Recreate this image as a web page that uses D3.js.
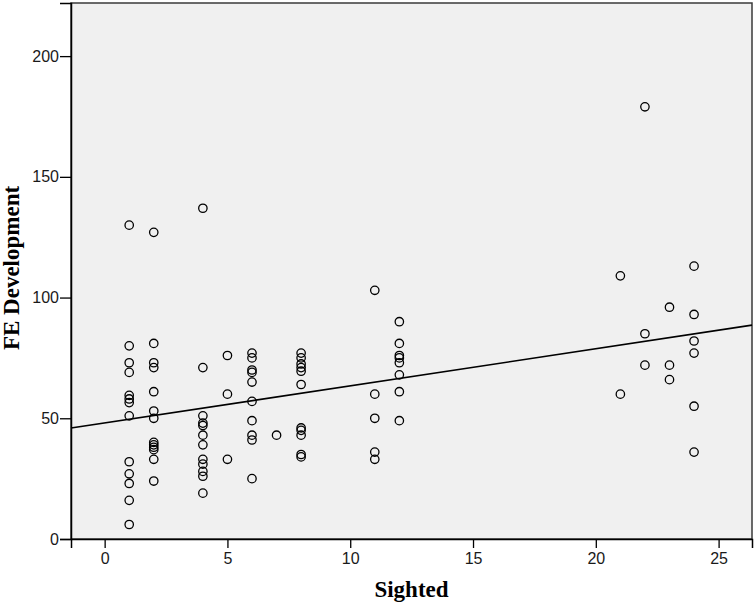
<!DOCTYPE html>
<html>
<head>
<meta charset="utf-8">
<script src="https://cdn.jsdelivr.net/npm/d3@7"></script>
<style>
  html, body { margin: 0; padding: 0; background: #ffffff; }
  svg { display: block; }
</style>
</head>
<body>
<svg id="chart" width="755" height="606"></svg>
<script>
// ---- Data ----
const sighted = [
  1,1,1,1,1,1,1,1,1,1,1,1,1,
  2,2,2,2,2,2,2,2,2,2,2,2,2,
  4,4,4,4,4,4,4,4,4,4,4,4,
  5,5,5,
  6,6,6,6,6,6,6,6,6,6,
  7,
  8,8,8,8,8,8,8,8,8,8,8,
  11,11,11,11,11,
  12,12,12,12,12,12,12,12,
  21,21,
  22,22,22,
  23,23,23,
  24,24,24,24,24,24
];
const feDevelopment = [
  130,80,73,69,59.5,58,56.5,51,32,27,23,16,6,
  127,81,73,71,61,53,50,40,39,38,37,33,24,
  137,71,51,48,47,43,39,33,31,28,26,19,
  76,60,33,
  77,75,70,69,65,57,49,43,41,25,
  43,
  77,75,72.5,71,69.5,64,46,45,43,35,34,
  103,60,50,36,33,
  90,81,76,75,73,68,61,49,
  109,60,
  179,85,72,
  96,72,66,
  113,93,82,77,55,36
];
const xTicks = [0, 5, 10, 15, 20, 25];
const yTicks = [0, 50, 100, 150, 200];
const xTitle = "Sighted";
const yTitle = "FE Development";

// ---- Layout ----
const svg = d3.select("#chart");
const plotLeft = 71, plotRight = 752, plotTop = 3, plotBottom = 539;

const x = d3.scaleLinear().domain([-1.37, 26.36]).range([plotLeft, plotRight]);
const y = d3.scaleLinear().domain([0, 222]).range([plotBottom, plotTop]);

// plot background + frame
svg.append("rect")
  .attr("x", plotLeft).attr("y", plotTop)
  .attr("width", plotRight - plotLeft).attr("height", plotBottom - plotTop)
  .attr("fill", "#f0f0f0")
  .attr("stroke", "#3a3a3a")
  .attr("stroke-width", 1.5);

// ---- Axes ----
const xAxis = d3.axisBottom(x).tickValues(xTicks).tickSize(9).tickPadding(5).tickFormat(d3.format("d"));
const yAxis = d3.axisLeft(y).tickValues(yTicks).tickSize(11).tickPadding(1).tickFormat(d3.format("d"));

const gx = svg.append("g").attr("transform", `translate(0,${plotBottom})`).call(xAxis);
const gy = svg.append("g").attr("transform", `translate(${plotLeft},0)`).call(yAxis);

[gx, gy].forEach(g => {
  g.select(".domain").attr("stroke", "#000").attr("stroke-width", 1.5);
  g.selectAll(".tick line").attr("stroke", "#000").attr("stroke-width", 1.3);
  g.selectAll(".tick text")
    .attr("fill", "#1a1a1a")
    .style("font-family", "'Liberation Sans', Arial, sans-serif")
    .style("font-size", "16px");
});

// ---- Fit line (least squares from the data) ----
const n = sighted.length;
const mx = d3.mean(sighted), my = d3.mean(feDevelopment);
let sxy = 0, sxx = 0;
for (let i = 0; i < n; i++) {
  sxy += (sighted[i] - mx) * (feDevelopment[i] - my);
  sxx += (sighted[i] - mx) ** 2;
}
const slope = sxy / sxx;
const intercept = my - slope * mx;
const [x0, x1] = x.domain();
const line = d3.line().x(d => x(d[0])).y(d => y(d[1]));
svg.append("path")
  .attr("d", line([[x0, intercept + slope * x0], [x1, intercept + slope * x1]]))
  .attr("fill", "none")
  .attr("stroke", "#000")
  .attr("stroke-width", 1.6);

// ---- Points ----
svg.append("g").selectAll("circle")
  .data(sighted.map((s, i) => [s, feDevelopment[i]]))
  .join("circle")
  .attr("cx", d => x(d[0]))
  .attr("cy", d => y(d[1]))
  .attr("r", 4.2)
  .attr("fill", "none")
  .attr("stroke", "#000")
  .attr("stroke-width", 1.3);

// ---- Titles ----
svg.append("text")
  .attr("x", (plotLeft + plotRight) / 2)
  .attr("y", 597)
  .attr("text-anchor", "middle")
  .style("font-family", "'Liberation Serif', 'Times New Roman', serif")
  .style("font-weight", "bold")
  .style("font-size", "23px")
  .attr("fill", "#000")
  .text(xTitle);

svg.append("text")
  .attr("transform", `translate(19,268) rotate(-90)`)
  .attr("text-anchor", "middle")
  .style("font-family", "'Liberation Serif', 'Times New Roman', serif")
  .style("font-weight", "bold")
  .style("font-size", "23px")
  .attr("fill", "#000")
  .text(yTitle);
</script>
</body>
</html>
